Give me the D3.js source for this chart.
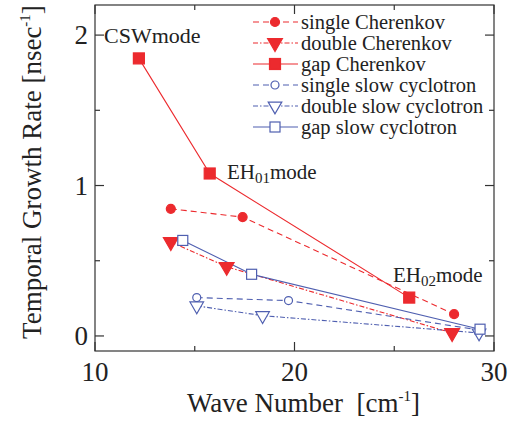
<!DOCTYPE html>
<html>
<head>
<meta charset="utf-8">
<script src="https://cdn.jsdelivr.net/npm/d3@7"></script>
<style>
  body { margin: 0; background: #fff; }
  text { font-family: "Liberation Serif", "Times New Roman", serif; fill: #222; }
</style>
</head>
<body>
<div id="chart"></div>
<script>
// data
const waveSingleCh = [13.8, 17.4, 28.0];
const rateSingleCh = [0.845, 0.79, 0.145];
const waveDoubleCh = [13.8, 16.6, 27.9];
const rateDoubleCh = [0.625, 0.46, 0.02];
const waveGapCh = [12.2, 15.75, 25.75];
const rateGapCh = [1.845, 1.08, 0.255];
const waveSingleSc = [15.1, 19.7, 29.25];
const rateSingleSc = [0.255, 0.235, 0.04];
const waveDoubleSc = [15.1, 18.4, 29.25];
const rateDoubleSc = [0.2, 0.135, 0.02];
const waveGapSc = [14.4, 17.85, 29.3];
const rateGapSc = [0.635, 0.41, 0.045];

const seriesNames = ['single Cherenkov', 'double Cherenkov', 'gap Cherenkov',
  'single slow cyclotron', 'double slow cyclotron', 'gap slow cyclotron'];
const xTicks = [10, 20, 30];
const xMinor = [15, 25];
const yTicks = [0, 1, 2];
const yMinor = [0.5, 1.5];

const red = '#ec2a2e';
const blue = '#4f5fb0';

const series = [
  { x: waveSingleCh, y: rateSingleCh, color: red, dash: '6,4', marker: 'circle', fill: true },
  { x: waveDoubleCh, y: rateDoubleCh, color: red, dash: '5,2,1.5,2', marker: 'tri', fill: true },
  { x: waveGapCh, y: rateGapCh, color: red, dash: null, marker: 'square', fill: true },
  { x: waveSingleSc, y: rateSingleSc, color: blue, dash: '6,4', marker: 'circle', fill: false },
  { x: waveDoubleSc, y: rateDoubleSc, color: blue, dash: '5,2,1.5,2', marker: 'tri', fill: false },
  { x: waveGapSc, y: rateGapSc, color: blue, dash: null, marker: 'square', fill: false },
].map((s, i) => Object.assign(s, { name: seriesNames[i] }));

const W = 516, H = 423;
const m = { left: 95, right: 22, top: 5, bottom: 72 };

const svg = d3.select('#chart').append('svg')
  .attr('width', W).attr('height', H);

const x = d3.scaleLinear().domain([10, 30]).range([m.left, W - m.right]);
const y = d3.scaleLinear().domain([-0.1, 2.2]).range([H - m.bottom, m.top]);

const x0 = x.range()[0], x1 = x.range()[1];
const y0 = y.range()[0], y1 = y.range()[1];

// frame
svg.append('rect')
  .attr('x', x0).attr('y', y1)
  .attr('width', x1 - x0).attr('height', y0 - y1)
  .attr('fill', 'none').attr('stroke', '#333').attr('stroke-width', 1.2);

// ticks (inward, all four sides)
const tk = svg.append('g').attr('stroke', '#333').attr('stroke-width', 1.2);
function vTick(v, len) {
  tk.append('line').attr('x1', x(v)).attr('x2', x(v)).attr('y1', y0).attr('y2', y0 - len);
  tk.append('line').attr('x1', x(v)).attr('x2', x(v)).attr('y1', y1).attr('y2', y1 + len);
}
function hTick(v, len) {
  tk.append('line').attr('y1', y(v)).attr('y2', y(v)).attr('x1', x0).attr('x2', x0 + len);
  tk.append('line').attr('y1', y(v)).attr('y2', y(v)).attr('x1', x1).attr('x2', x1 - len);
}
xTicks.forEach(v => vTick(v, 9));
xMinor.forEach(v => vTick(v, 5));
yTicks.forEach(v => hTick(v, 9));
yMinor.forEach(v => hTick(v, 5));

// tick labels
svg.append('g').selectAll('text').data(xTicks).join('text')
  .attr('x', d => x(d)).attr('y', y0 + 30)
  .attr('text-anchor', 'middle').attr('font-size', 27)
  .text(d => d);
svg.append('g').selectAll('text').data(yTicks).join('text')
  .attr('x', x0 - 7).attr('y', d => y(d) + 9)
  .attr('text-anchor', 'end').attr('font-size', 27)
  .text(d => d);

// axis titles
const xt = svg.append('text')
  .attr('x', (x0 + x1) / 2 + 9).attr('y', 412)
  .attr('text-anchor', 'middle').attr('font-size', 27);
xt.append('tspan').text('Wave Number\u00a0\u00a0[cm');
xt.append('tspan').attr('font-size', 15).attr('dy', -11).text('-1');
xt.append('tspan').attr('dy', 11).text(']');

const yt = svg.append('text')
  .attr('transform', `translate(41, ${(y0 + y1) / 2 - 6}) rotate(-90)`)
  .attr('text-anchor', 'middle').attr('font-size', 27);
yt.append('tspan').text('Temporal Growth Rate [nsec');
yt.append('tspan').attr('font-size', 15).attr('dy', -11).text('-1');
yt.append('tspan').attr('dy', 11).text(']');

// markers
function drawMarker(g, s, cx, cy) {
  const fill = s.fill ? s.color : '#fff';
  if (s.marker === 'circle') {
    g.append('circle').attr('cx', cx).attr('cy', cy)
      .attr('r', s.fill ? 4.5 : 4)
      .attr('fill', fill).attr('stroke', s.color).attr('stroke-width', 1.2);
  } else if (s.marker === 'square') {
    const a = s.fill ? 11 : 10;
    g.append('rect').attr('x', cx - a / 2).attr('y', cy - a / 2)
      .attr('width', a).attr('height', a)
      .attr('fill', fill).attr('stroke', s.color).attr('stroke-width', 1.2);
  } else {
    g.append('path')
      .attr('d', d3.symbol(d3.symbolTriangle, s.fill ? 95 : 80)())
      .attr('transform', `translate(${cx},${cy}) rotate(180)`)
      .attr('fill', fill).attr('stroke', s.color).attr('stroke-width', 1.2);
  }
}

const line = d3.line().x(d => x(d[0])).y(d => y(d[1]));
const plot = svg.append('g');
series.forEach(s => {
  const pts = s.x.map((v, i) => [v, s.y[i]]);
  plot.append('path').datum(pts)
    .attr('d', line)
    .attr('fill', 'none').attr('stroke', s.color).attr('stroke-width', 1.1)
    .attr('stroke-dasharray', s.dash);
});
series.forEach(s => {
  s.x.forEach((v, i) => drawMarker(plot, s, x(v), y(s.y[i])));
});

// mode annotations
svg.append('text').attr('x', 104).attr('y', 43).attr('font-size', 22).text('CSWmode');
const eh1 = svg.append('text').attr('x', 227).attr('y', 179).attr('font-size', 21);
eh1.append('tspan').text('EH');
eh1.append('tspan').attr('font-size', 15).attr('dy', 4).text('01');
eh1.append('tspan').attr('dy', -4).text('mode');
const eh2 = svg.append('text').attr('x', 393).attr('y', 282).attr('font-size', 21);
eh2.append('tspan').text('EH');
eh2.append('tspan').attr('font-size', 15).attr('dy', 4).text('02');
eh2.append('tspan').attr('dy', -4).text('mode');

// legend
const legend = svg.append('g').attr('transform', 'translate(253, 22)');
series.forEach((s, i) => {
  const row = legend.append('g').attr('transform', `translate(0, ${i * 21})`);
  row.append('line').attr('x1', 0).attr('x2', 45).attr('y1', 0).attr('y2', 0)
    .attr('stroke', s.color).attr('stroke-width', 1.1)
    .attr('stroke-dasharray', s.dash);
  drawMarker(row, s, 22, 0);
  row.append('text').attr('x', 48).attr('y', 7)
    .attr('font-size', 20.5).text(s.name);
});
</script>
</body>
</html>
